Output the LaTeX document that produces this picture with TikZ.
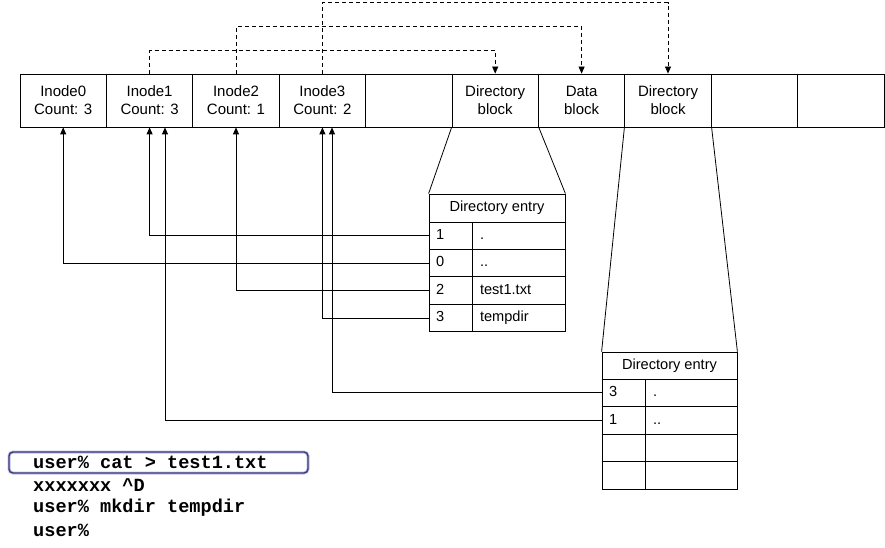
\documentclass[tikz,border=0pt]{standalone}
\usepackage{fontspec}
\setmainfont{Liberation Sans}
\newfontfamily\shellfont{Liberation Mono}
\usetikzlibrary{arrows.meta,calc}
\definecolor{boxblue}{RGB}{60,60,120}
\definecolor{glow}{RGB}{190,190,230}
\begin{document}
\begin{tikzpicture}[x=1pt,y=-1pt,
  blk/.style={draw,line width=0.8pt,minimum width=86.4pt,minimum height=53pt,inner sep=0pt,align=center,font=\fontsize{15}{18}\selectfont},
  hdr/.style={draw,line width=0.8pt,inner sep=0pt,font=\fontsize{14.6}{16}\selectfont},
  lc/.style={draw,line width=0.8pt,minimum width=43pt,inner xsep=7pt,inner ysep=0pt,text width=29pt,align=left,text height=10.5pt,text depth=3pt,font=\fontsize{14.6}{16}\selectfont},
  rc/.style={draw,line width=0.8pt,inner xsep=8pt,inner ysep=0pt,align=left,text height=10.5pt,text depth=3pt,font=\fontsize{14.6}{16}\selectfont},
  ptr/.style={line width=0.8pt,-{Triangle[length=7pt,width=6pt]}},
  dptr/.style={line width=0.8pt,dashed,dash pattern=on 4pt off 3pt,-{Triangle[length=7pt,width=6pt]}},
  shell/.style={anchor=west,inner sep=0pt,font=\shellfont\bfseries\fontsize{18.6}{20}\selectfont}]
\useasboundingbox (0,0) rectangle (885,548);
\fill[white] (0,0) rectangle (885,548);
% block row
\foreach \i/\t in {0/{Inode0\\Count: 3},1/{Inode1\\Count: 3},2/{Inode2\\Count: 1},3/{Inode3\\Count: 2},4/{},5/{Directory\\block},6/{Data\\block},7/{Directory\\block},8/{},9/{}}{
  \node[blk] (c\i) at ({20+86.4*(\i+0.5)},100.5) {\t};
}
% dashed pointers
\draw[dptr] (c1.north) -- ++(0,-23) -| (c5.north);
\draw[dptr] (c2.north) -- ++(0,-47) -| (c6.north);
\draw[dptr] (c3.north) -- ++(0,-71) -| (c7.north);
% table 1
\node[hdr,minimum width=136pt,minimum height=28pt] (t1h) at (497,208) {Directory entry};
\foreach \k/\n/\m in {1/1/.,2/0/..,3/2/test1.txt,4/3/tempdir}{
  \node[lc,minimum height=27.4pt] (t1n\k) at (450.5,{222+27.4*(\k-0.5)}) {\n};
  \node[rc,minimum height=27.4pt,minimum width=93pt,text width=77pt] (t1m\k) at (518.5,{222+27.4*(\k-0.5)}) {\m};
}
\draw[line width=0.8pt] (c5.south west) -- (t1h.north west);
\draw[line width=0.8pt] (c5.south east) -- (t1h.north east);
% table 2
\node[hdr,minimum width=135pt,minimum height=27pt] (t2h) at (669.5,365.5) {Directory entry};
\foreach \k/\n/\m in {1/3/.,2/1/..,3/{}/{},4/{}/{}}{
  \node[lc,minimum height=27.5pt] (t2n\k) at (623.5,{379+27.5*(\k-0.5)}) {\n};
  \node[rc,minimum height=27.5pt,minimum width=92pt,text width=76pt] (t2m\k) at (691,{379+27.5*(\k-0.5)}) {\m};
}
\draw[line width=0.8pt] (c7.south west) -- (t2h.north west);
\draw[line width=0.8pt] (c7.south east) -- (t2h.north east);
% back pointers
\coordinate (i1b) at ([xshift=15.4pt]c1.south);
\coordinate (i3b) at ([xshift=9.6pt]c3.south);
\draw[ptr] (t1n1.west) -| (c1.south);
\draw[ptr] (t1n2.west) -| (c0.south);
\draw[ptr] (t1n3.west) -| (c2.south);
\draw[ptr] (t1n4.west) -| (c3.south);
\draw[ptr] (t2n1.west) -| (i3b);
\draw[ptr] (t2n2.west) -| (i1b);
% shell
\draw[glow,line width=3pt,rounded corners=4pt] (9,452) rectangle (308,473);
\draw[boxblue,line width=1.4pt,rounded corners=4pt] (9,452) rectangle (308,473);
\node[shell] (s1) at (33,462.5) {user\% cat > test1.txt};
\node[shell] (s2) at (33,485) {xxxxxxx \textasciicircum D};
\node[shell] (s3) at (33,507.5) {user\% mkdir tempdir};
\node[shell] (s4) at (33,530) {user\%};
\end{tikzpicture}
\end{document}
